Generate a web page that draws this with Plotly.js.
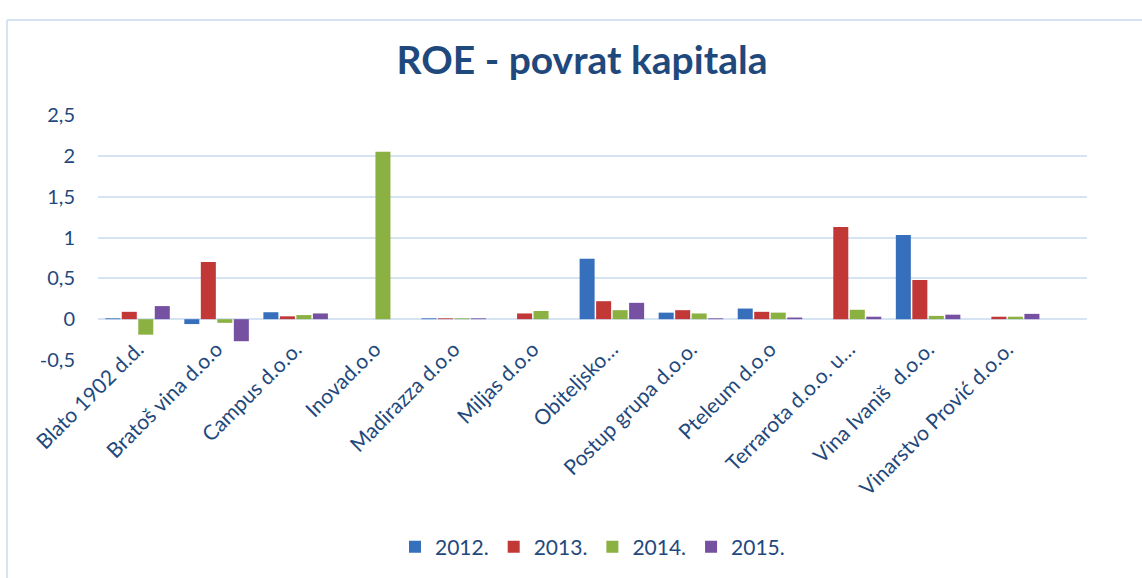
<!DOCTYPE html>
<html>
<head>
<meta charset="utf-8">
<script src="https://cdn.plot.ly/plotly-3.0.1.min.js"></script>
<style>
html,body{margin:0;padding:0;background:#fff;}
#chart{width:1142px;height:578px;}
</style>
</head>
<body>
<div id="chart"></div>
<script>
const categories = ["Blato 1902 d.d.", "Bratoš vina d.o.o", "Campus d.o.o.", "Inovad.o.o", "Madirazza d.o.o", "Miljas d.o.o", "Obiteljsko…", "Postup grupa d.o.o.", "Pteleum d.o.o", "Terrarota d.o.o. u…", "Vina Ivaniš  d.o.o.", "Vinarstvo Prović d.o.o."];
const seriesNames = ["2012.", "2013.", "2014.", "2015."];
const v2012 = [0.01, -0.06, 0.085, 0, 0.01, 0, 0.74, 0.08, 0.13, 0, 1.03, 0];
const v2013 = [0.09, 0.70, 0.035, 0, 0.01, 0.07, 0.22, 0.11, 0.09, 1.13, 0.48, 0.03];
const v2014 = [-0.19, -0.045, 0.05, 2.05, 0.01, 0.10, 0.11, 0.07, 0.08, 0.115, 0.04, 0.03];
const v2015 = [0.16, -0.27, 0.07, 0, 0.01, 0, 0.20, 0.01, 0.02, 0.03, 0.055, 0.065];
const yTickVals = [-0.5, 0, 0.5, 1, 1.5, 2, 2.5];
const yTickText = ["-0,5", "0", "0,5", "1", "1,5", "2", "2,5"];

const colors = ["#3670BC", "#C23836", "#8BB142", "#7650A1"];
const values = [v2012, v2013, v2014, v2015];
const textColor = "#1F497D";
const fontFam = "Lato, 'Open Sans', sans-serif";

const traces = values.map((v, i) => ({
  type: "bar",
  name: seriesNames[i],
  x: categories,
  y: v,
  marker: {color: colors[i]},
  hoverinfo: "skip"
}));

const layout = {
  width: 1142,
  height: 578,
  margin: {l: 98, r: 55, t: 115, b: 218, pad: 0},
  paper_bgcolor: "#ffffff",
  plot_bgcolor: "#ffffff",
  barmode: "group",
  bargap: 0.165,
  bargroupgap: 0.09,
  showlegend: true,
  title: {
    text: "<b>ROE - povrat kapitala</b>",
    font: {family: fontFam, size: 39, color: textColor},
    x: 582/1142, xref: "container", xanchor: "center",
    y: 1 - 60/578, yref: "container", yanchor: "middle"
  },
  xaxis: {
    type: "category",
    range: [-0.5, 12.01],
    tickangle: -45,
    tickfont: {family: fontFam, size: 21, color: textColor},
    showgrid: false,
    showline: false,
    ticks: "",
    zeroline: false,
    ticklabelstandoff: -28,
    fixedrange: true,
    automargin: false
  },
  yaxis: {
    range: [-0.5, 2.5],
    tickvals: yTickVals,
    ticktext: yTickText,
    tickfont: {family: fontFam, size: 20, color: textColor},
    showgrid: true,
    gridcolor: "#D6E3F3",
    gridwidth: 2,
    zeroline: false,
    showline: false,
    ticks: "",
    ticklabelstandoff: 22,
    fixedrange: true,
    automargin: false
  },
  legend: {
    orientation: "h",
    x: 0.5, xanchor: "center",
    y: 1 - 547/578, yref: "container", yanchor: "middle",
    font: {family: fontFam, size: 21, color: textColor},
    itemwidth: 30,
    traceorder: "normal"
  },
  shapes: [
    {type: "line", xref: "paper", yref: "paper",
     x0: (7-98)/989, x1: (1142-98)/989, y0: (360-20)/245, y1: (360-20)/245,
     line: {color: "#D6E3F3", width: 2}},
    {type: "line", xref: "paper", yref: "paper",
     x0: (7-98)/989, x1: (7-98)/989, y0: (360-20)/245, y1: (360-578)/245,
     line: {color: "#D6E3F3", width: 2}}
  ]
};

Plotly.newPlot("chart", traces, layout, {displayModeBar: false, staticPlot: true});
</script>
</body>
</html>
